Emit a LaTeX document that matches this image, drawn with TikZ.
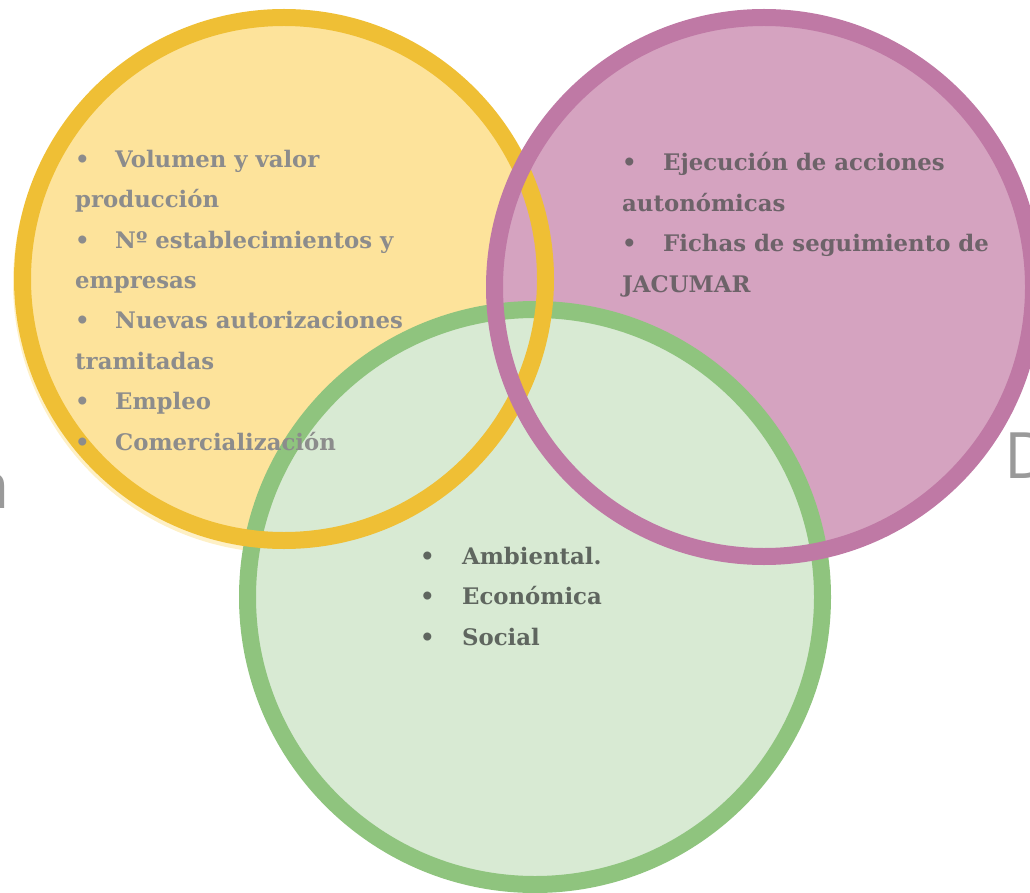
\documentclass[tikz,border=0pt]{standalone}
\usepackage{fontspec}
\setmainfont{DejaVu Serif}
\newfontfamily\titulofont{Open Sans}
\usepackage{tikz}

\definecolor{prodfill}{HTML}{FDE39B}
\definecolor{prodring}{HTML}{EFBF35}
\definecolor{prodshade}{HTML}{FEF0C6}
\definecolor{segfill}{HTML}{D5A3C0}
\definecolor{segring}{HTML}{BF79A5}
\definecolor{sostfill}{HTML}{D8EAD3}
\definecolor{sostring}{HTML}{8FC47E}
\definecolor{prodtext}{HTML}{8C8C8C}
\definecolor{segtext}{HTML}{6D6369}
\definecolor{sosttext}{HTML}{5F665F}
\definecolor{titulogris}{HTML}{9A9A9A}

\newcommand{\vineta}[1][40pt]{\makebox[#1][l]{•}}

\begin{document}
\begin{tikzpicture}[x=1pt,y=-1pt,
  ring/.style={line width=17pt},
  lista/.style={anchor=base west, inner sep=0pt, align=left,
    font=\bfseries\fontsize{22.8}{40.4}\selectfont},
  titulo/.style={inner sep=0pt, text=titulogris,
    font=\titulofont\fontsize{64}{70}\selectfont}]
\useasboundingbox (0,0) rectangle (1030,893);
\clip (0,0) rectangle (1030,893);
\coordinate (prod) at (284,279);
\coordinate (prodsh) at (283,283);
\coordinate (seg) at (764,287);
\coordinate (sost) at (535,597);
% fills
\fill[prodshade] (prodsh) circle[radius=270pt];
\fill[prodfill] (prod) circle[radius=262pt];
\fill[segfill] (seg) circle[radius=270pt];
\fill[sostfill] (sost) circle[radius=288pt];
% rings
\draw[ring, sostring] (sost) circle[radius=287.5pt];
\draw[ring, prodring] (prod) circle[radius=261.5pt];
\draw[ring, segring] (seg) circle[radius=269.5pt];
% cut titles at the edges
\node (tizq) [titulo, anchor=base east] at (10,508) {n};
\node (tder) [titulo, anchor=base west] at (1004,478) {D};
% lists (anchored at the last line)
\node (lprod) [lista, text=prodtext] at (75,450)
  {\vineta Volumen y valor\\ producción\\ \vineta Nº establecimientos y\\
   empresas\\ \vineta Nuevas autorizaciones\\ tramitadas\\ \vineta Empleo\\
   \vineta Comercialización};
\node (lseg) [lista, text=segtext] at (622,292)
  {\vineta[41pt]Ejecución de acciones\\ autonómicas\\
   \vineta[41pt]Fichas de seguimiento de\\ JACUMAR};
\node (lsost) [lista, text=sosttext] at (420,645)
  {\vineta[42pt]Ambiental.\\ \vineta[42pt]Económica\\ \vineta[42pt]Social};
\end{tikzpicture}
\end{document}
